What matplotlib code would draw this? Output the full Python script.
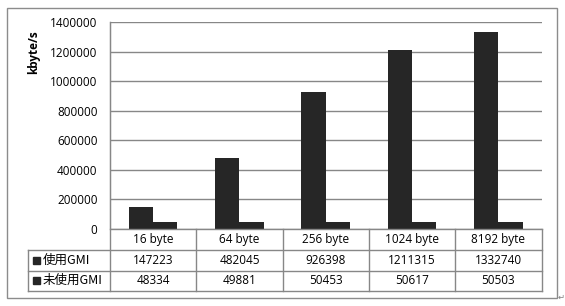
import matplotlib
matplotlib.use("Agg")
import matplotlib.pyplot as plt
from matplotlib.patches import Rectangle
from matplotlib.lines import Line2D
from matplotlib import transforms

categories = ["16 byte", "64 byte", "256 byte", "1024 byte", "8192 byte"]
series_names = ["使用GMI", "未使用GMI"]
with_gmi = [147223, 482045, 926398, 1211315, 1332740]
without_gmi = [48334, 49881, 50453, 50617, 50503]
y_ticks = [0, 200000, 400000, 600000, 800000, 1000000, 1200000, 1400000]
y_label = "kbyte/s"

plt.rcParams['font.family'] = ['Open Sans', 'Noto Sans CJK SC', 'DejaVu Sans']

W, H = 565, 306
fig = plt.figure(figsize=(W / 100, H / 100), dpi=100)
fig.patch.set_facecolor("white")

def fx(px):
    return px / W

def fy(py):
    return 1 - py / H

# plot area in pixels
L, R, T, B = 110, 541.5, 22, 229
ax = fig.add_axes([fx(L), fy(B), fx(R) - fx(L), (B - T) / H])

bar_color = "#262626"
grid_color = "#878787"
w = 0.282
xs = list(range(len(categories)))
ax.bar([x - w / 2 for x in xs], with_gmi, width=w, color=bar_color, zorder=3)
ax.bar([x + w / 2 for x in xs], without_gmi, width=w, color=bar_color, zorder=3)

ax.set_xlim(-0.5, len(categories) - 0.5)
ax.set_ylim(0, 1400000)
ax.set_yticks(y_ticks)
ax.set_yticklabels([str(v) for v in y_ticks], fontsize=8.5)
ax.tick_params(axis='y', length=0, pad=9)
ax.set_xticks([])
ax.yaxis.grid(True, color=grid_color, linewidth=1.0)
ax.set_axisbelow(True)
for s in ["top", "right"]:
    ax.spines[s].set_visible(False)
ax.spines["left"].set_color(grid_color)
ax.spines["bottom"].set_color(grid_color)
ax.spines["bottom"].set_visible(False)

fig.text(fx(34), fy(52), y_label, rotation=90, fontsize=8.5, fontweight="bold",
         ha="center", va="center", family=['Open Sans', 'DejaVu Sans'])

# table
blend = transforms.blended_transform_factory(ax.transData, fig.transFigure)
line_kw = dict(color=grid_color, linewidth=1.0)
rows_y = [229, 249.5, 270.5, 291]
# horizontal lines
fig.add_artist(Line2D([fx(L), fx(R)], [fy(rows_y[0])] * 2, **line_kw))
for yy in rows_y[1:]:
    fig.add_artist(Line2D([fx(28), fx(R)], [fy(yy)] * 2, **line_kw))
# vertical lines
fig.add_artist(Line2D([fx(L), fx(L)], [fy(T), fy(rows_y[-1])], **line_kw))
fig.add_artist(Line2D([fx(28), fx(28)], [fy(rows_y[1]), fy(rows_y[-1])], **line_kw))
for i in range(len(categories)):
    xb = i + 0.5
    ax.add_artist(Line2D([xb, xb], [fy(rows_y[0]), fy(rows_y[-1])], transform=blend,
                         clip_on=False, **line_kw))

row_centers = [(rows_y[k] + rows_y[k + 1]) / 2 for k in range(3)]
for i, c in enumerate(categories):
    ax.text(i, fy(row_centers[0]), c, transform=blend, ha="center", va="center", fontsize=8.5)
    ax.text(i, fy(row_centers[1]), str(with_gmi[i]), transform=blend, ha="center", va="center", fontsize=8.5)
    ax.text(i, fy(row_centers[2]), str(without_gmi[i]), transform=blend, ha="center", va="center", fontsize=8.5)

for k, name in enumerate(series_names):
    yc = row_centers[k + 1]
    fig.add_artist(Rectangle((fx(33), fy(yc + 3.5)), fx(7), 7 / H, color=bar_color))
    fig.text(fx(43), fy(yc), name, ha="left", va="center", fontsize=9,
             family=['Noto Sans CJK SC', 'DejaVu Sans'])

# outer border
fig.add_artist(Rectangle((fx(7), fy(298)), fx(557 - 7), (298 - 8) / H, fill=False,
                         edgecolor="#8c8c8c", linewidth=1.0))
fig.text(fx(561), fy(297), "↵", fontsize=6, color="#808080", ha="center", va="center",
         family=['DejaVu Sans'])

fig.savefig("out.png", dpi=100)
